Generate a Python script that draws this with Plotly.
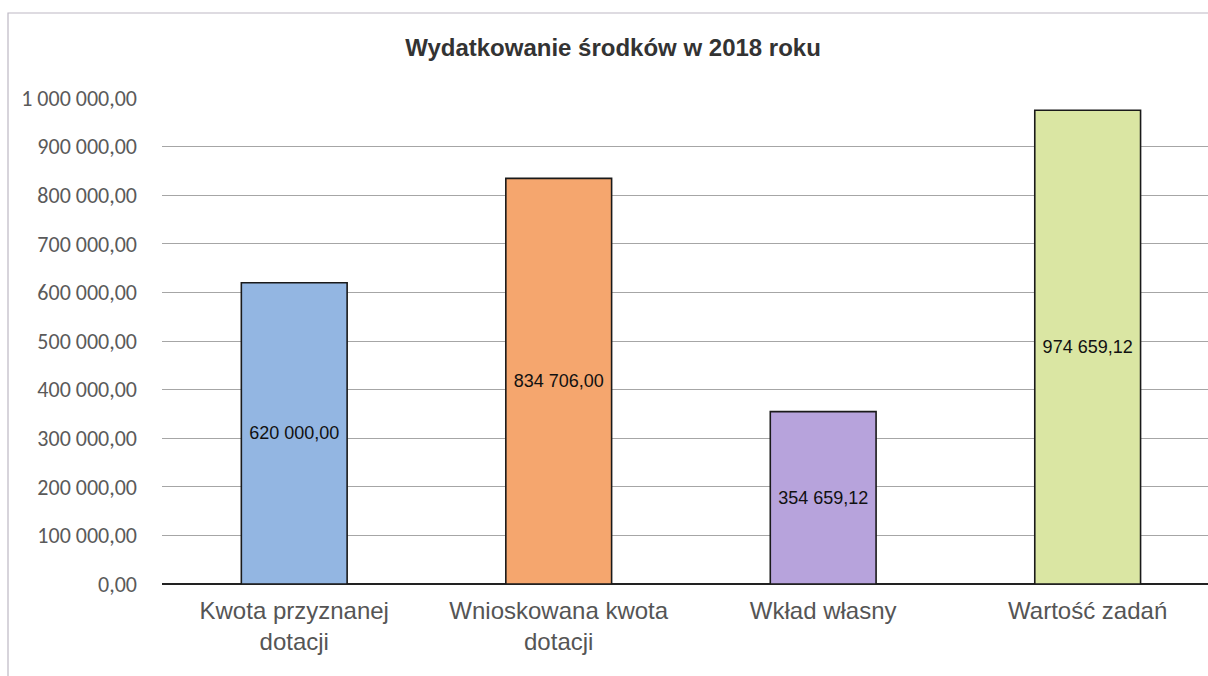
import plotly.graph_objects as go

categories = ["Kwota przyznanej<br>dotacji", "Wnioskowana kwota<br>dotacji", "Wkład własny", "Wartość zadań"]
values = [620000.00, 834706.00, 354659.12, 974659.12]
colors = ["#93B6E2", "#F5A66E", "#B7A3DC", "#DAE6A3"]
tick_vals = [0, 100000, 200000, 300000, 400000, 500000, 600000, 700000, 800000, 900000, 1000000]

W, H = 1208, 676
L, R, T, B = 162, 0, 98, 92
pw = W - L - R
ph = H - T - B

fig = go.Figure()
fig.add_trace(go.Bar(
    x=categories, y=values,
    marker=dict(color=colors, line=dict(color="#1a1a1a", width=1.6)),
    width=0.4,
    texttemplate="%{y:,.2f}",
    textposition="inside",
    insidetextanchor="middle",
    textangle=0,
    constraintext="none",
    textfont=dict(family="Liberation Sans, Arial", size=18, color="#111111"),
    hoverinfo="skip",
))

def px_x(p):
    return (p - L) / pw

def px_y(p):
    return (H - B - p) / ph

fig.add_shape(type="rect", xref="paper", yref="paper",
              x0=px_x(8), x1=px_x(1230), y0=px_y(700), y1=px_y(13),
              line=dict(color="#BDB8C4", width=1.2), fillcolor="rgba(0,0,0,0)", layer="below")

fig.update_layout(
    width=W, height=H,
    margin=dict(l=L, r=R, t=T, b=B),
    paper_bgcolor="white", plot_bgcolor="white",
    separators=", ",
    showlegend=False,
    title=dict(text="<b>Wydatkowanie środków w 2018 roku</b>",
               x=613 / W, xref="container", xanchor="center",
               y=1 - 48 / H, yref="container", yanchor="middle",
               font=dict(family="Liberation Sans, Arial", size=24, color="#333333")),
)
fig.update_xaxes(
    type="category", range=[-0.5, 3.455],
    showgrid=False, showline=False, ticks="", ticklabelstandoff=10,
    tickfont=dict(family="Liberation Sans, Arial", size=24, color="#555555"),
)
fig.update_yaxes(
    range=[0, 1000000], tickvals=tick_vals, tickformat=",.2f",
    showgrid=True, gridcolor="#A6A6A6", gridwidth=1,
    zeroline=True, zerolinecolor="#222222", zerolinewidth=2,
    showline=False, ticks="", ticklabelstandoff=24,
    tickfont=dict(family="Carlito, Calibri, Liberation Sans", size=22, color="#5A5A5A"),
)

fig.write_html("out.html", config={"displayModeBar": False},
               post_script="document.body.style.margin='0';document.body.style.overflow='hidden';")
